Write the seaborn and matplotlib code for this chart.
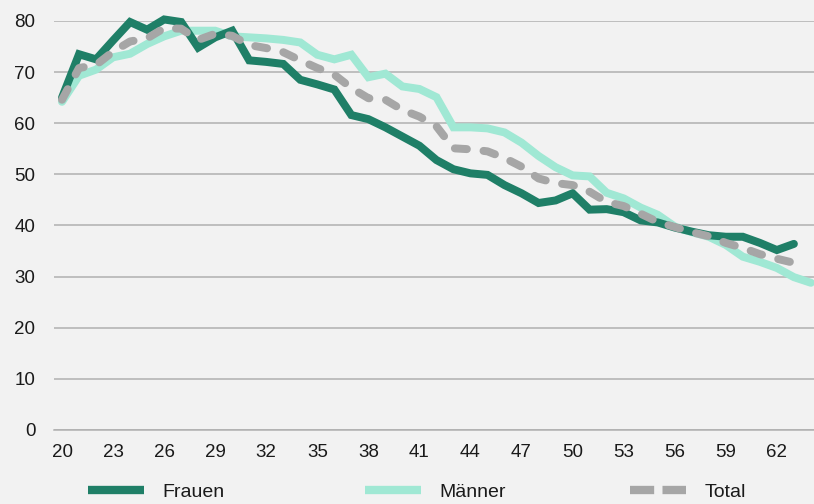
import matplotlib
matplotlib.use('Agg')
import matplotlib.pyplot as plt
import seaborn as sns
from matplotlib.lines import Line2D
from matplotlib.ticker import FixedLocator

# Werte (Alter 20 bis 64)
alter_frauen = list(range(20, 64))
frauen = [65, 73.5, 72.5, 76.2, 79.8, 78.3, 80.3, 79.8, 74.8, 76.8, 78.1,
          72.3, 72, 71.6, 68.5, 67.6, 66.6, 61.6, 60.8, 59.2, 57.4, 55.6,
          52.8, 51, 50.2, 49.9, 47.9, 46.3, 44.4, 44.9, 46.3, 43.1, 43.2,
          42.6, 41, 40.6, 39.6, 38.8, 38.1, 37.8, 37.8, 36.6, 35.2, 36.4]

alter_maenner = list(range(20, 65))
maenner = [64.2, 69.3, 70.5, 72.9, 73.6, 75.5, 77, 78.1, 78.1, 78.1, 77,
           76.8, 76.6, 76.3, 75.8, 73.4, 72.5, 73.4, 69, 69.7, 67.2, 66.7,
           65.1, 59.2, 59.2, 59, 58.2, 56.2, 53.6, 51.4, 49.8, 49.6, 46.4,
           45.3, 43.5, 42.1, 39.8, 38.7, 37.8, 36.2, 33.9, 32.9, 31.7, 29.9,
           28.8]

alter_total = list(range(20, 64))
total = [64.6, 70.8, 71.4, 74, 76, 76.6, 78.6, 78.5, 76.3, 77.5, 77.1,
         75.3, 74.7, 73.9, 72.3, 70.8, 69.5, 66.9, 64.9, 64.6, 62.6, 61.3,
         59.4, 55.1, 54.9, 54.5, 53.2, 51.5, 49.2, 48.3, 47.9, 46.6, 44.6,
         43.8, 42.3, 40.7, 39.7, 38.7, 37.9, 36.6, 35.6, 34.4, 33.5, 32.7]

x_labels = list(range(20, 63, 3))
y_ticks = list(range(0, 81, 10))

bg = '#f2f2f2'
c_frauen = '#1f7f67'
c_maenner = '#a0e8d4'
c_total = '#a6a6a6'
txt = '#1a1a1a'

sns.set_style('white')
plt.rcParams['font.family'] = ['Liberation Sans', 'DejaVu Sans']

fig = plt.figure(figsize=(8.14, 5.04), dpi=100, facecolor=bg)
ax = fig.add_axes([53.5 / 814, 74 / 504, 1 - 53.5 / 814, 409 / 504])
ax.set_facecolor(bg)

lw = 5.75
sns.lineplot(x=alter_maenner, y=maenner, ax=ax, color=c_maenner, linewidth=lw,
             clip_on=False, solid_joinstyle='miter')
sns.lineplot(x=alter_frauen, y=frauen, ax=ax, color=c_frauen, linewidth=lw,
             clip_on=False, solid_joinstyle='miter')
sns.lineplot(x=alter_total, y=total, ax=ax, color=c_total, linewidth=lw,
             linestyle=(0, (1.5, 2.1)), dash_capstyle='round', clip_on=False)

ax.set_xlim(19.5, 19.5 + (814 - 53.5) / 17.02)
ax.set_ylim(0, 80)
ax.set_yticks(y_ticks)
ax.set_xticks(x_labels)
ax.xaxis.set_minor_locator(FixedLocator([a + 0.5 for a in range(19, 65)]))
ax.grid(axis='y', color='#b0b0b0', linewidth=1.1)
ax.set_axisbelow(True)
for s in ['top', 'right', 'left']:
    ax.spines[s].set_visible(False)
ax.spines['bottom'].set_color('#b0b0b0')
ax.spines['bottom'].set_linewidth(1.1)
ax.tick_params(axis='y', length=0, pad=13, labelsize=13.5, labelcolor=txt)
ax.tick_params(axis='x', which='major', length=0, pad=10, labelsize=13.5,
               labelcolor=txt)
ax.tick_params(axis='x', which='minor', length=5, width=1, color='#b0b0b0',
               direction='out')
ax.set_xlabel('')
ax.set_ylabel('')

# Legende: drei Einträge an festen Positionen wie im Original
eintraege = [
    (Line2D([], [], color=c_frauen, lw=6, solid_capstyle='butt'), 'Frauen', 87.5),
    (Line2D([], [], color=c_maenner, lw=6, solid_capstyle='butt'), 'Männer', 365),
    (Line2D([], [], color=c_total, lw=6, linestyle=(0, (2.9, 1.0)),
            dash_capstyle='butt'), 'Total', 630),
]
for handle, name, xpos in eintraege:
    leg = fig.legend([handle], [name], loc='center left',
                     bbox_to_anchor=(xpos / 814, 12 / 504), frameon=False,
                     fontsize=14, handlelength=2.9, handletextpad=0.95,
                     borderpad=0, borderaxespad=0)
    for t in leg.get_texts():
        t.set_color(txt)

fig.savefig('out.png', dpi=100, facecolor=bg)
